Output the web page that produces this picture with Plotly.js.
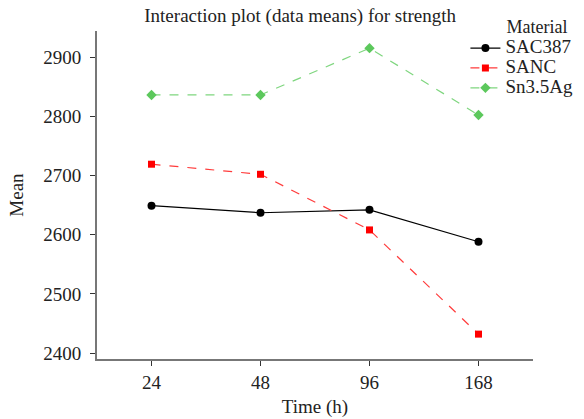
<!DOCTYPE html>
<html><head><meta charset="utf-8">
<script src="https://cdn.plot.ly/plotly-3.0.1.min.js"></script>
<style>body{margin:0;font-family:"Liberation Serif",serif}#c{width:584px;height:419px}</style>
</head><body><div id="c"></div>
<script>
const times = ["24", "48", "96", "168"];
const materials = ["SAC387", "SANC", "Sn3.5Ag"];
const sac387 = [2649, 2637, 2642, 2588];
const sanc = [2719, 2702, 2608, 2432];
const sn35ag = [2836, 2836, 2915, 2802];
const yTicks = [2400, 2500, 2600, 2700, 2800, 2900];

const pos = times.map((t, i) => i + 1);
const fam = "Times New Roman, Liberation Serif, serif";
const col = "#222";
const fs = 19;
const big = s => '<span style="font-size:19px">' + s + '</span>';
const traces = [
  {x: pos, y: sac387, name: big(materials[0]), mode: "lines+markers", line: {color: "black", width: 1.2}, marker: {symbol: "circle", size: 8, color: "black"}},
  {x: pos, y: sanc, name: big(materials[1]), mode: "lines+markers", line: {color: "#ff3b3b", width: 1.2, dash: "dash"}, marker: {symbol: "square", size: 7, color: "#ff0000"}},
  {x: pos, y: sn35ag, name: big(materials[2]), mode: "lines+markers", line: {color: "#7fd67f", width: 1.2, dash: "dash"}, marker: {symbol: "diamond", size: 8, color: "#5cc85c"}}
];
const layout = {
  width: 584, height: 419,
  margin: {l: 97, r: 51, t: 31, b: 60, autoexpand: false},
  font: {family: fam, size: fs, color: col},
  paper_bgcolor: "white", plot_bgcolor: "white",
  title: {text: "Interaction plot (data means) for strength", x: 0.514, xanchor: "center", y: 0.964, yanchor: "middle", font: {family: fam, size: fs, color: col}},
  xaxis: {
    range: [0.5, 4.5], tickvals: pos, ticktext: times, showgrid: false, zeroline: false, automargin: false,
    showline: true, linecolor: "#777", linewidth: 2, ticks: "outside", ticklen: 5, tickcolor: "#333",
    tickfont: {family: fam, size: fs, color: col},
    title: {text: "Time (h)", standoff: 8, font: {family: fam, size: fs, color: col}}
  },
  yaxis: {
    range: [2390, 2944], tickvals: yTicks, showgrid: false, zeroline: false, automargin: false,
    showline: true, linecolor: "#777", linewidth: 2, ticks: "outside", ticklen: 5, tickcolor: "#333",
    ticklabelstandoff: 5,
    tickfont: {family: fam, size: fs, color: col},
    title: {text: "Mean", standoff: 15, font: {family: fam, size: fs, color: col}}
  },
  legend: {
    x: 0.845, y: 1.065, xanchor: "left", yanchor: "top",
    bgcolor: "rgba(0,0,0,0)", font: {family: fam, size: 13, color: col},
    title: {text: "Material&nbsp;&nbsp;", side: "top right", font: {family: fam, size: 18, color: col}},
    tracegroupgap: 0, itemwidth: 30
  },
  showlegend: true
};
Plotly.newPlot("c", traces, layout, {staticPlot: true});
</script></body></html>
